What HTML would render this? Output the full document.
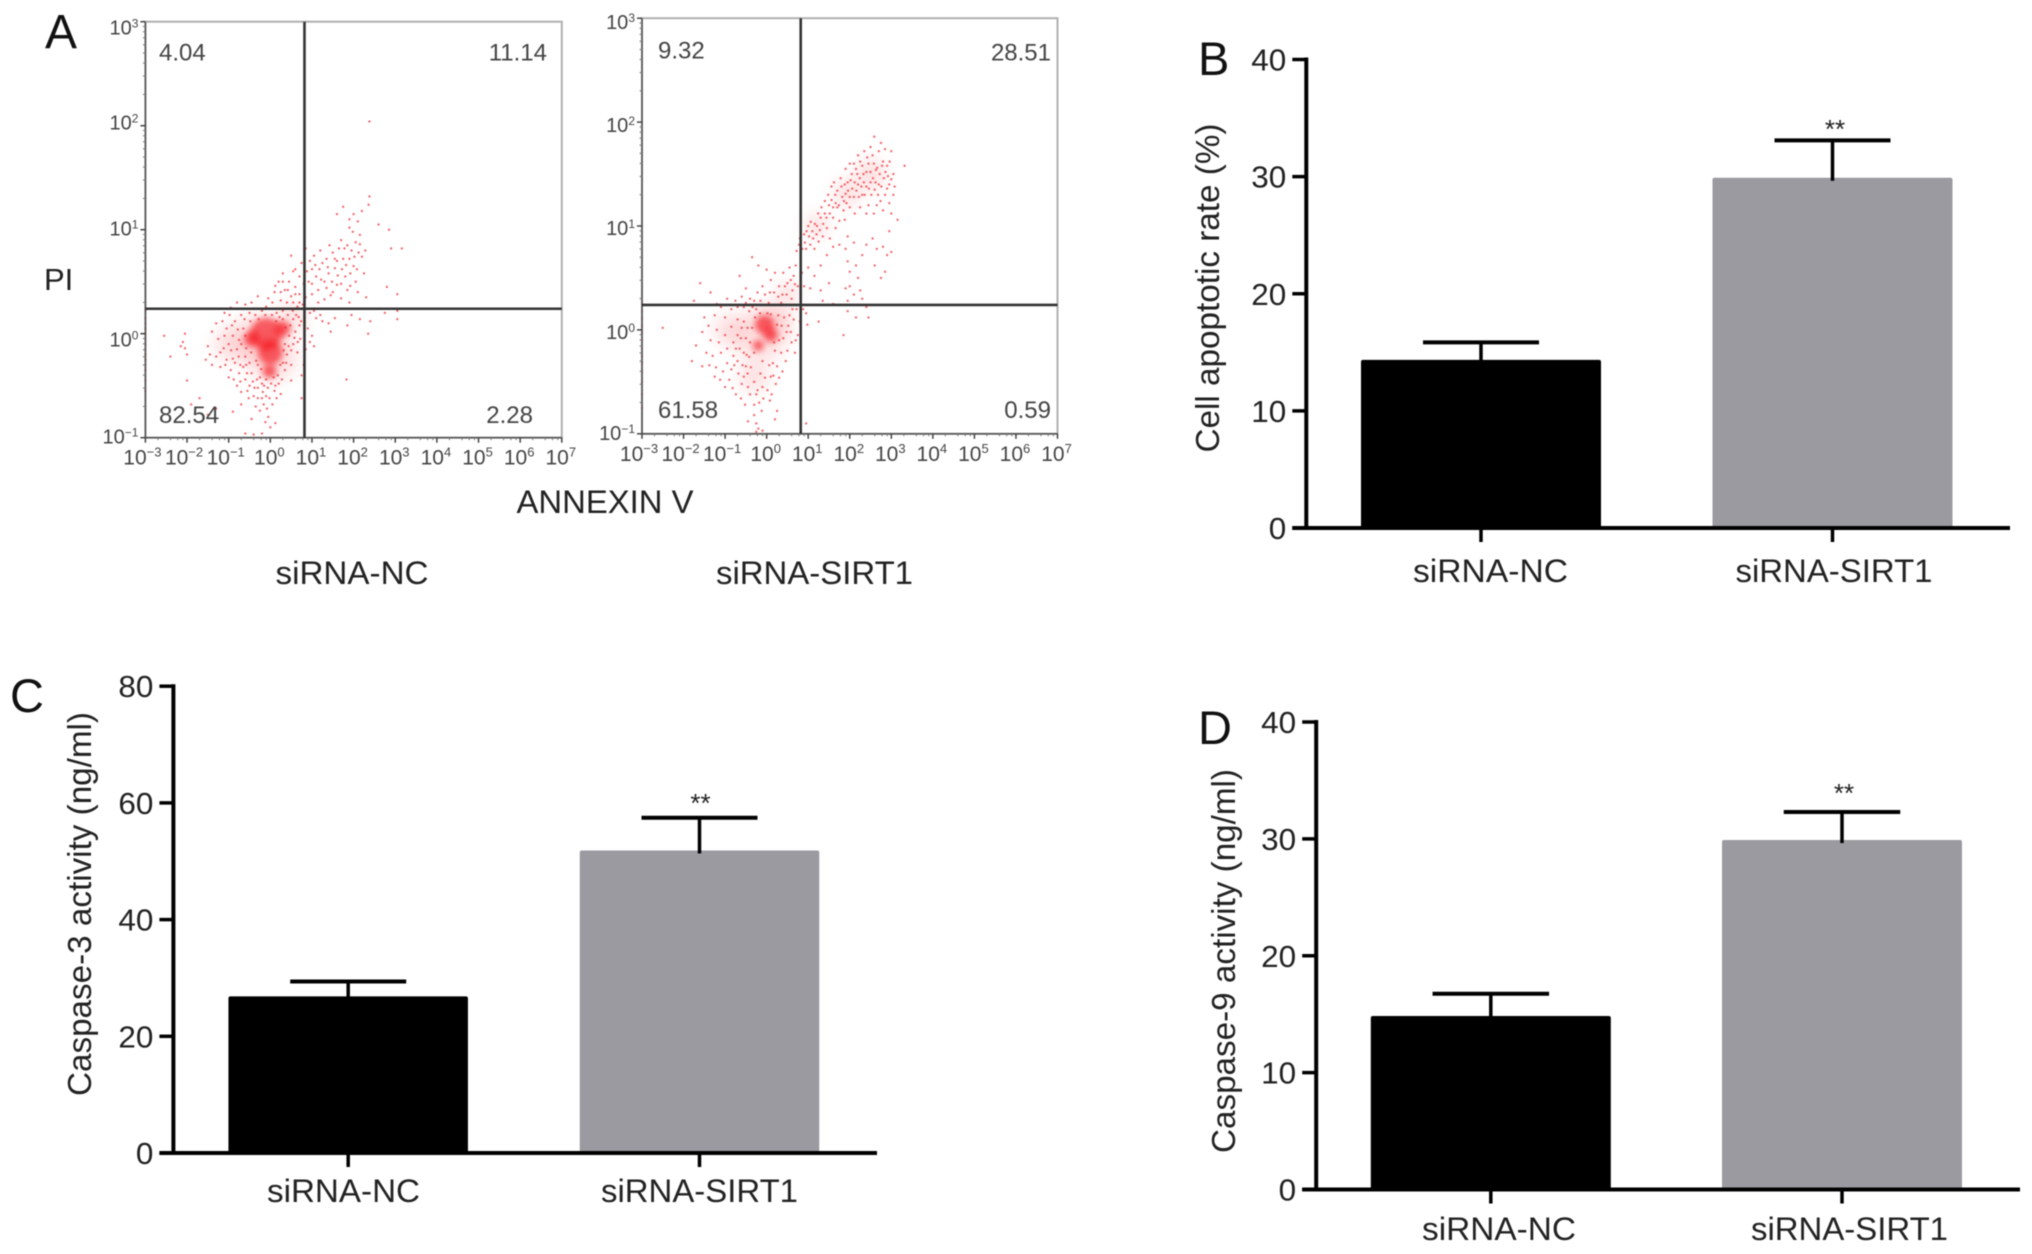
<!DOCTYPE html>
<html lang="en">
<head>
<meta charset="utf-8">
<title>siRNA-SIRT1 apoptosis and caspase activity</title>
<style>
html,body{margin:0;padding:0;background:#fff;width:2032px;height:1254px;overflow:hidden}
svg{display:block;filter:blur(0.55px)}
text{font-family:"Liberation Sans",sans-serif}
</style>
</head>
<body>
<svg id="figure" xmlns="http://www.w3.org/2000/svg" width="2032" height="1254" viewBox="0 0 2032 1254">
<defs>
<filter id="soft" x="-50%" y="-50%" width="200%" height="200%"><feGaussianBlur stdDeviation="3"/></filter>
<filter id="softer" x="-80%" y="-80%" width="260%" height="260%"><feGaussianBlur stdDeviation="8"/></filter>
</defs>
<rect width="2032" height="1254" fill="#fff"/>
</svg>
<script>
/* ---------- Bar chart data ---------- */
const barCategories = ['siRNA-NC', 'siRNA-SIRT1'];
const apoptosisMeans = [14.35, 29.9];
const apoptosisErrors = [1.5, 3.2];
const apoptosisTicks = [0, 10, 20, 30, 40];
const caspase3Means = [26.85, 51.85];
const caspase3Errors = [2.55, 5.6];
const caspase3Ticks = [0, 20, 40, 60, 80];
const caspase9Means = [14.85, 29.9];
const caspase9Errors = [1.9, 2.4];
const caspase9Ticks = [0, 10, 20, 30, 40];

/* ---------- Flow cytometry data (log10 annexin V, log10 PI) ---------- */
const flowXTicks = [-3, -2, -1, 0, 1, 2, 3, 4, 5, 6, 7];
const flowYTicks = [-1, 0, 1, 2, 3];
const ncQuadrants = ['4.04', '11.14', '82.54', '2.28'];
const sirtQuadrants = ['9.32', '28.51', '61.58', '0.59'];
const ncGate = [0.82, 0.24];
const sirtGate = [0.82, 0.24];
const ncDensityHaze = [[-0.3,-0.05,620],[0.05,-0.22,620],[0.5,0.15,200],[-0.95,-0.1,260]];
const ncDensityCore = [[-0.1,0.0,260],[0.0,-0.18,150],[-0.02,-0.36,50],[0.3,0.05,60],[-0.45,-0.05,60]];
const ncEvents = [
[0.5,0.75],[0.6,0.62],[0.7,0.55],[0.8,0.48],[0.95,0.7],[1.0,0.62],[1.1,0.55],[1.15,0.42],[1.25,0.68],[1.3,0.5],
[1.4,0.58],[1.45,0.37],[1.55,0.63],[1.6,0.47],[1.7,0.9],[1.75,0.72],[1.8,0.55],[1.85,0.42],[1.95,0.8],[2.0,0.65],
[2.05,0.5],[2.15,0.95],[2.2,0.74],[2.25,0.58],[2.3,0.35],[2.38,1.32],[2.36,1.24],[2.38,2.04],[2.0,1.15],[2.2,1.18],
[1.6,1.15],[1.75,1.22],[1.9,1.02],[2.6,1.05],[2.85,1.0],[2.9,0.82],[3.16,0.82],[2.8,0.45],[3.05,0.38],[3.05,0.22],
[1.9,1.1],[2.1,1.08],[2.15,0.86],[1.85,0.85],[1.65,0.82],[1.5,0.78],[1.35,0.72],[1.2,0.8],[1.05,0.75],[0.85,0.82],
[0.75,0.68],[0.55,0.6],[0.45,0.5],[0.6,0.45],[0.7,0.38],[0.85,0.35],[1.0,0.38],[1.15,0.3],[1.3,0.33],[1.5,0.4],
[1.7,0.34],[1.9,0.3],[0.35,0.42],[0.3,0.58],[0.2,0.5],[0.1,0.4],[-0.05,0.34],[0.05,0.3],[0.25,0.32],[0.4,0.3],
[0.55,0.3],[0.65,0.26],[-0.3,0.36],[-0.45,0.3],[-0.6,0.28],[-0.8,0.3],[-0.95,0.25],[-1.1,0.2],[-1.3,0.1],[-1.4,0.02],
[0.95,0.2],[1.1,0.15],[1.25,0.12],[1.4,0.1],[1.45,0.02],[0.9,0.05],[0.95,-0.08],[1.05,-0.12],[0.85,-0.15],[1.0,-0.02],
[1.83,-0.44],[1.95,0.18],[2.15,0.14],[2.35,0.0],[2.4,0.12],[1.85,0.08],[2.75,0.2],[3.05,0.14],[0.8,-0.3],[0.75,-0.4],
[-2.05,0.0],[-2.1,-0.08],[-2.15,-0.12],[-2.0,-0.2],[-2.05,-0.14],[-2.4,-0.22],[-2.55,-0.02],[-2.0,-0.45],[-1.5,-0.12],[-1.45,-0.2],
[-1.55,-0.25],[-1.4,-0.3],[-1.25,-0.05],[-1.2,-0.18],[-1.3,-0.22],[-1.2,-0.32],[-1.05,0.05],[-1.0,-0.1],[-1.05,-0.25],[-0.95,-0.35],
[-1.0,-0.42],[-0.85,0.12],[-0.9,-0.02],[-0.8,-0.15],[-0.85,-0.28],[-0.75,-0.38],[-0.8,-0.5],[-0.7,0.18],[-0.65,0.05],[-0.7,-0.1],
[-0.6,-0.22],[-0.65,-0.32],[-0.6,-0.44],[-0.55,-0.55],[-0.5,0.2],[-0.5,-0.28],[-0.45,-0.38],[-0.5,-0.5],[-0.4,-0.6],[-0.35,-0.7],
[-0.4,0.24],[-0.3,-0.3],[-0.25,-0.42],[-0.3,-0.52],[-0.2,-0.62],[-0.25,-0.74],[-0.2,0.22],[-0.1,0.26],[-0.15,-0.5],[-0.1,-0.6],
[-0.08,-0.72],[-0.05,-0.8],[0.05,-0.68],[0.1,-0.55],[0.15,-0.62],[0.2,-0.48],[0.25,-0.58],[0.05,0.24],[0.15,0.2],[0.3,0.22],
[0.35,-0.1],[0.4,-0.2],[0.45,-0.02],[0.5,-0.3],[0.55,-0.1],[0.6,0.02],[0.65,-0.18],[0.7,0.08],[0.55,0.14],[0.72,-0.05],
[0.35,-0.35],[0.3,-0.28],[0.5,-0.45],[0.12,-0.86],[0.0,-0.9],[-0.12,-0.85],[-1.9,-0.68],[-1.7,-0.62],[-1.5,-0.78],[-1.3,-0.72],
[-0.9,-0.75],[-0.7,-0.68],[-0.45,-0.82],[-0.6,-0.96],[-0.4,-0.97],[-0.2,-0.96],[0.75,-0.62],[-3,-0.3],[-3,-0.25],[-3,-0.2],
[-3,-0.15],[-3,-0.1],[-3,-0.05],[-3,0],[-3,0.05],[-3,0.1],[-3,0.15],[-3,-0.35],[-3,-0.45],[-3,-0.55],[-3,0.22]
];
const ncEventsDense = [
[-1.15,0.12],[-1.1,-0.02],[-1.12,-0.14],[-1.08,-0.3],[-0.98,0.18],[-0.92,0.08],[-0.94,-0.16],[-0.9,-0.24],[-0.88,-0.44],[-0.82,0.24],
[-0.78,0.04],[-0.75,-0.06],[-0.76,-0.22],[-0.72,-0.3],[-0.72,-0.46],[-0.7,-0.56],[-0.62,0.14],[-0.6,-0.02],[-0.58,-0.14],[-0.58,-0.3],
[-0.56,-0.38],[-0.52,-0.62],[-0.48,0.12],[-0.46,-0.18],[-0.42,-0.46],[-0.38,-0.52],[-0.36,0.18],[-0.34,-0.26],[-0.32,-0.44],[-0.3,-0.62],
[-0.28,0.14],[-0.22,-0.34],[-0.2,-0.48],[-0.18,-0.56],[-0.16,-0.68],[-0.12,0.18],[-0.1,-0.44],[-0.06,-0.52],[-0.02,-0.62],[0.02,-0.48],
[0.04,0.18],[0.08,-0.42],[0.12,-0.5],[0.14,0.12],[0.18,-0.4],[0.22,0.16],[0.24,-0.3],[0.28,-0.44],[0.3,0.14],[0.32,-0.16],
[0.36,0.06],[0.38,-0.28],[0.42,0.18],[0.44,-0.12],[0.48,0.08],[0.5,-0.16],[0.54,0.22],[0.58,-0.04],[0.62,0.18],[0.66,-0.08],
[0.68,0.16],[0.74,0.12],[0.78,0.28],[0.7,0.3],[0.6,0.38],[0.5,0.36],[0.42,0.42],[0.3,0.5],[0.25,0.4],[0.12,0.46],
[0.88,0.6],[0.92,0.5],[1.0,0.48],[1.08,0.66],[1.18,0.62],[1.22,0.52],[1.35,0.44],[1.38,0.64],[1.48,0.5],[1.55,0.72],
[1.62,0.56],[1.72,0.62],[1.78,0.82],[1.82,0.66],[1.9,0.72],[1.92,0.58],[2.02,0.74],[2.08,0.62],[2.12,0.78],[2.28,0.8],
[2.05,0.88],[1.98,0.98],[1.6,0.7],[1.42,0.85],[1.7,0.48],[1.92,0.46],[2.1,0.4],[1.05,0.22],[1.2,0.18],[1.55,0.15]
];
const sirtDensityHaze = [[-0.15,-0.05,700],[0.2,0.1,300],[-0.9,0.0,230],[-0.3,-0.45,210],[0.5,0.35,120],[1.2,1.0,130],[1.95,1.32,170],[2.5,1.5,210]];
const sirtDensityCore = [[-0.05,0.05,90],[0.1,-0.05,50],[-0.2,-0.15,30]];
const sirtEvents = [
[0.78,0.82],[0.82,0.7],[0.7,0.62],[0.9,0.92],[1.0,1.0],[1.1,0.95],[1.21,1.0],[1.3,1.08],[1.4,1.12],[1.5,1.2],
[1.56,1.25],[1.65,1.3],[1.7,1.18],[1.8,1.38],[1.9,1.31],[1.95,1.42],[2.05,1.5],[2.15,1.55],[2.25,1.62],[2.33,1.5],
[2.45,1.6],[2.55,1.68],[2.63,1.54],[2.59,1.86],[2.75,1.8],[2.8,1.62],[2.9,1.58],[3.0,1.72],[3.32,1.58],[3.05,1.5],
[2.95,1.4],[2.85,1.3],[2.7,1.4],[2.6,1.35],[2.5,1.42],[2.4,1.38],[2.3,1.3],[2.2,1.4],[2.1,1.28],[2.0,1.18],
[1.85,1.15],[1.75,1.05],[1.6,1.08],[1.45,0.98],[1.35,0.9],[1.25,0.85],[1.15,0.78],[1.05,0.82],[0.95,0.78],[0.85,0.55],
[2.2,1.68],[2.35,1.72],[2.5,1.76],[2.0,1.6],[1.9,1.55],[2.7,1.72],[2.85,1.74],[3.05,1.3],[3.0,1.12],[2.95,1.22],
[2.8,1.15],[2.65,1.2],[2.45,1.2],[2.25,1.18],[3.15,1.06],[2.95,0.95],[2.8,0.8],[2.9,0.72],[3.0,0.75],[2.65,0.78],
[2.55,0.88],[2.4,0.82],[2.3,0.72],[2.1,0.84],[1.95,0.9],[1.9,0.78],[1.95,0.66],[2.15,0.62],[2.0,0.56],[2.75,0.5],
[2.85,0.56],[2.6,0.62],[1.75,0.82],[1.6,0.8],[1.45,0.72],[1.3,0.62],[1.15,0.52],[1.0,0.6],[0.9,0.42],[1.05,0.4],
[1.3,0.38],[1.5,0.45],[1.35,0.28],[1.6,0.25],[1.9,0.4],[2.0,0.42],[2.1,0.34],[1.95,0.28],[2.2,0.5],[2.25,0.38],
[2.05,0.24],[1.95,0.18],[2.3,0.3],[2.4,0.22],[2.15,0.12],[2.45,0.12],[1.85,-0.05],[1.25,0.08],[0.98,0.05],[0.88,0.2],
[0.95,0.16],[0.75,0.42],[0.65,0.52],[0.55,0.6],[0.5,0.45],[0.4,0.55],[0.3,0.42],[0.2,0.55],[0.1,0.48],[0.0,0.58],
[-0.1,0.42],[-0.2,0.62],[-0.35,0.7],[-0.5,0.4],[-0.65,0.52],[-0.4,0.3],[-0.6,0.32],[-0.75,0.28],[-0.95,0.3],[-1.1,0.22],
[-1.2,0.25],[-0.7,0.22],[-0.55,0.22],[-1.6,0.45],[-1.75,0.28],[-0.5,0.26],[0.35,0.26],[0.6,0.3],[0.72,0.2],[0.65,0.1],
[0.75,-0.05],[0.6,-0.12],[0.5,-0.2],[0.68,-0.22],[0.8,0.08],[-1.5,0.12],[-1.55,-0.02],[-1.4,0.04],[-1.35,-0.1],[-1.25,0.14],
[-1.2,0.0],[-1.15,-0.12],[-1.3,-0.25],[-1.1,-0.22],[-1.0,0.12],[-1.0,-0.05],[-0.95,-0.18],[-0.95,-0.32],[-1.05,-0.4],[-0.85,0.2],
[-0.85,0.03],[-0.8,-0.12],[-0.8,-0.25],[-0.85,-0.38],[-0.7,0.1],[-0.7,-0.05],[-0.65,-0.18],[-0.7,-0.3],[-0.68,-0.42],[-0.6,-0.52],
[-0.55,0.08],[-0.5,-0.08],[-0.55,-0.22],[-0.5,-0.35],[-0.55,-0.45],[-0.45,-0.55],[-0.4,-0.62],[-0.42,0.18],[-0.35,0.02],[-0.3,-0.22],
[-0.38,-0.36],[-0.3,-0.5],[-0.25,-0.62],[-0.3,-0.72],[-0.25,0.2],[-0.15,0.28],[-0.1,-0.3],[-0.15,-0.42],[-0.1,-0.55],[-0.08,-0.66],
[-0.12,-0.78],[0.05,0.26],[0.1,0.15],[0.2,0.24],[0.25,0.05],[0.3,-0.1],[0.35,-0.22],[0.2,-0.2],[0.15,-0.32],[0.25,-0.35],
[0.1,-0.45],[0.02,-0.58],[0.12,-0.62],[0.22,-0.52],[0.3,-0.46],[0.38,-0.4],[0.42,0.12],[0.48,-0.02],[0.55,0.14],[-0.3,-0.82],
[-0.45,-0.88],[-0.25,-0.9],[0.25,-0.78],[0.2,-0.86],[-0.25,-0.98],[-0.1,-0.97],[-0.2,-0.95],[0.95,-0.9],[-1.8,-0.3],[-1.55,-0.35],
[-1.7,-0.15],[-1.25,-0.45],[-1.0,-0.55],[-1.35,0.36],[-2.5,0.02],[-3,-0.4],[-3,-0.32],[-3,-0.25],[-3,-0.18],[-3,-0.1],
[-3,-0.03],[-3,0.04],[-3,0.11],[-3,0.18],[-3,0.25],[-3,-0.5],[-3,-0.62],[-3,-0.75]
];
const sirtEventsDense = [
[0.72,0.76],[0.8,0.88],[0.86,0.78],[0.92,0.84],[0.96,0.95],[1.02,0.9],[1.06,1.04],[1.12,0.88],[1.16,1.02],[1.2,0.92],
[1.24,1.12],[1.28,0.96],[1.32,1.18],[1.36,1.02],[1.4,1.24],[1.44,1.08],[1.48,1.3],[1.52,1.12],[1.56,1.38],[1.6,1.18],
[1.62,1.42],[1.66,1.22],[1.7,1.34],[1.74,1.2],[1.78,1.46],[1.82,1.28],[1.86,1.24],[1.88,1.4],[1.92,1.22],[1.96,1.34],
[2.0,1.28],[2.02,1.44],[2.06,1.36],[2.1,1.6],[2.12,1.42],[2.16,1.34],[2.18,1.5],[2.22,1.28],[2.24,1.46],[2.28,1.38],
[2.3,1.58],[2.34,1.42],[2.36,1.3],[2.4,1.52],[2.42,1.66],[2.46,1.36],[2.5,1.52],[2.52,1.3],[2.56,1.46],[2.58,1.6],
[2.62,1.42],[2.66,1.56],[2.68,1.3],[2.72,1.5],[2.76,1.38],[2.78,1.58],[2.82,1.46],[2.86,1.52],[2.9,1.36],[2.92,1.48],
[2.96,1.62],[3.0,1.45],[3.08,1.38],[2.74,1.24],[2.58,1.12],[2.4,1.12],[2.12,1.12],[1.88,1.06],[1.66,0.98],[1.52,0.88],
[0.68,0.44],[0.62,0.38],[0.58,0.48],[0.48,0.34],[0.44,0.42],[0.38,0.34],[0.28,0.32],[0.18,0.36],[0.08,0.36],[-0.04,0.34],
[-0.22,0.36],[-0.3,0.28],[-1.45,-0.22],[-1.38,-0.34],[-1.22,-0.36],[-1.12,-0.48],[-0.9,-0.48],[-0.82,-0.56],[-0.74,-0.62],[-0.62,-0.66],
[-0.52,-0.72],[-0.46,-0.42],[-0.42,-0.26],[-0.4,-0.12],[-0.46,0.02],[-0.6,0.02],[-0.62,-0.08],[-0.74,-0.18],[-0.78,-0.34],[-0.58,-0.34],
[-0.48,-0.24],[-0.22,-0.58],[-0.18,-0.7],[-0.04,-0.46],[0.06,-0.34],[0.08,-0.68],[0.16,-0.44],[0.18,-0.12],[0.28,0.14],[0.36,0.04],
[0.4,-0.08],[0.46,-0.3],[0.52,0.04],[0.58,-0.02],[0.62,0.2],[0.7,-0.1],[-0.16,0.16],[-0.28,0.12],[-0.34,0.22],[0.02,0.16]
];

/* ---------- Layout (page geometry only) ---------- */
const svg = document.getElementById('figure');
const NS = 'http://www.w3.org/2000/svg';
function make(tag, attrs, parent) {
  const el = document.createElementNS(NS, tag);
  for (const k in attrs) el.setAttribute(k, attrs[k]);
  (parent || svg).appendChild(el);
  return el;
}
function addText(parent, str, x, y, size, anchor, fill, len, rotate) {
  const attrs = { x: x, y: y, 'font-size': size, 'text-anchor': anchor, fill: fill };
  if (len) { attrs.textLength = len; attrs.lengthAdjust = 'spacingAndGlyphs'; }
  if (rotate) attrs.transform = 'rotate(-90 ' + x + ' ' + y + ')';
  const el = make('text', attrs, parent);
  el.textContent = str;
  return el;
}

/* ---------- Bar panels ---------- */
function drawBarPanel(key, means, errors, ticks, box, title) {
  const g = make('g', {});
  
  
  const yMax = ticks[ticks.length - 1];
  const y = v => box.zero - (v / yMax) * (box.zero - box.top);
  const x = i => box.center0 + i * box.step;

  means.forEach((m, i) => {
    const bar = make('rect', { x: x(i) - box.barW / 2, y: y(m), width: box.barW, height: box.zero - y(m), rx: 2, fill: i === 0 ? '#000' : '#9b9aa1' }, g);
    
    
    const stem = make('line', { x1: x(i), x2: x(i), y1: y(m + errors[i]), y2: y(m) + 3, stroke: '#000', 'stroke-width': 3.5 }, g);
    
    
    const cap = make('line', { x1: x(i) - box.capW / 2, x2: x(i) + box.capW / 2, y1: y(m + errors[i]), y2: y(m + errors[i]), stroke: '#000', 'stroke-width': 4 }, g);
    
    
    const xTick = make('line', { x1: x(i), x2: x(i), y1: box.zero, y2: box.zero + 14, stroke: '#000', 'stroke-width': 3.5 }, g);
    
    
    const lab = addText(g, barCategories[i], box.labelX[i], box.labelY, 32, 'middle', '#222', box.labelW[i]);
    
    
  });

  const yAxis = make('line', { x1: box.left, x2: box.left, y1: box.top - 2, y2: box.zero + 2, stroke: '#000', 'stroke-width': 4 }, g);
  
  
  const xAxis = make('line', { x1: box.left - 14, x2: box.right, y1: box.zero, y2: box.zero, stroke: '#000', 'stroke-width': 4 }, g);
  
  

  ticks.forEach(t => {
    const tick = make('line', { x1: box.left - 14, x2: box.left, y1: y(t), y2: y(t), stroke: '#000', 'stroke-width': 3.5 }, g);
    
    
    const lab = addText(g, String(t), box.left - 20, y(t) + 11, 31, 'end', '#222', 35);
    
    
    if (t === 0) lab.setAttribute('textLength', 17.5);
  });

  const yTitle = addText(g, title, box.titleX, box.titleY, 33, 'middle', '#222', box.titleW, true);
  
  
  const star = addText(g, '**', box.starX, box.starY, 26, 'middle', '#222');
  
  
}

drawBarPanel('apoptosis', apoptosisMeans, apoptosisErrors, apoptosisTicks,
  { left: 1306.3, right: 2010, top: 59.5, zero: 528, center0: 1481, step: 351.5, barW: 240, capW: 116,
    labelX: [1490.5, 1834], labelW: [155, 197], labelY: 582, titleX: 1219, titleY: 288, titleW: 329, starX: 1835, starY: 138 },
  'Cell apoptotic rate (%)');
drawBarPanel('caspase-3', caspase3Means, caspase3Errors, caspase3Ticks,
  { left: 173.4, right: 877, top: 686.2, zero: 1153, center0: 348.2, step: 351.3, barW: 239.5, capW: 116,
    labelX: [343.5, 699.5], labelW: [153, 197], labelY: 1202, titleX: 91, titleY: 904, titleW: 384, starX: 700.5, starY: 812 },
  'Caspase-3 activity (ng/ml)');
drawBarPanel('caspase-9', caspase9Means, caspase9Errors, caspase9Ticks,
  { left: 1316.2, right: 2020, top: 722, zero: 1189.5, center0: 1490.8, step: 351.2, barW: 240, capW: 116.5,
    labelX: [1499, 1849.5], labelW: [154, 197], labelY: 1240, titleX: 1235, titleY: 961, titleW: 384, starX: 1844, starY: 802 },
  'Caspase-9 activity (ng/ml)');

/* ---------- Flow cytometry panels ---------- */
function drawFlowPanel(key, events, haze, core, gate, quadrants, box) {
  const g = make('g', {});
  
  
  const x = v => box.left + (v - flowXTicks[0]) / (flowXTicks[flowXTicks.length - 1] - flowXTicks[0]) * (box.right - box.left);
  const y = v => box.bottom - (v - flowYTicks[0]) / (flowYTicks[flowYTicks.length - 1] - flowYTicks[0]) * (box.bottom - box.top);

  const frame = make('rect', { x: box.left, y: box.top, width: box.right - box.left, height: box.bottom - box.top, fill: 'none', stroke: '#b0b0b0', 'stroke-width': 2 }, g);
  
  

  haze.forEach(p => {
    const c = make('circle', { cx: x(p[0]), cy: y(p[1]), r: Math.sqrt(p[2]), fill: '#f5393c', opacity: 0.16, filter: 'url(#softer)' }, g);
    
    
  });
  core.forEach(p => {
    const c = make('circle', { cx: x(p[0]), cy: y(p[1]), r: Math.sqrt(p[2]), fill: '#f40f16', opacity: 0.62, filter: 'url(#soft)' }, g);
    
    
  });
  events.forEach(p => {
    const d = make('rect', { x: x(p[0]) - 1, y: y(p[1]) - 1, width: 2, height: 2, fill: '#ee1c25', opacity: 0.7 }, g);
    
    
  });

  const leftAxis = make('line', { x1: box.left, x2: box.left, y1: box.top, y2: box.bottom, stroke: '#555', 'stroke-width': 1.6 }, g);
  
  
  const bottomAxis = make('line', { x1: box.left, x2: box.right, y1: box.bottom, y2: box.bottom, stroke: '#555', 'stroke-width': 1.6 }, g);
  
  

  flowXTicks.forEach((t, i) => {
    const tick = make('line', { x1: x(t), x2: x(t), y1: box.bottom, y2: box.bottom + 5, stroke: '#444', 'stroke-width': 1.5 }, g);
    
    
    const lab = addText(g, '10', x(t) - (t < 0 ? 3 : 1), box.bottom + 27, 21, 'middle', '#444');
    
    
    const sup = make('tspan', { dy: -8, 'font-size': 13 }, lab);
    sup.textContent = t < 0 ? '\u2212' + (-t) : String(t);
    if (i < flowXTicks.length - 1) {
      for (let m = 2; m < 10; m += 2) {
        const minor = make('line', { x1: x(t + Math.log10(m)), x2: x(t + Math.log10(m)), y1: box.bottom, y2: box.bottom + 2.5, stroke: '#777', 'stroke-width': 1 }, g);
        
        
      }
    }
  });
  flowYTicks.forEach((t, i) => {
    const tick = make('line', { x1: box.left - 5, x2: box.left, y1: y(t), y2: y(t), stroke: '#444', 'stroke-width': 1.5 }, g);
    
    
    const lab = addText(g, '10', box.left - 7, y(t) + box.yLabelDy[i], 20, 'end', '#444');
    
    
    const sup = make('tspan', { dy: -7, 'font-size': 12 }, lab);
    sup.textContent = t < 0 ? '\u2212' + (-t) : String(t);
    if (i < flowYTicks.length - 1) {
      for (let m = 2; m < 10; m++) {
        const minor = make('line', { x1: box.left - 2.5, x2: box.left, y1: y(t + Math.log10(m)), y2: y(t + Math.log10(m)), stroke: '#777', 'stroke-width': 1 }, g);
        
        
      }
    }
  });

  const vGate = make('line', { x1: x(gate[0]), x2: x(gate[0]), y1: box.top, y2: box.bottom, stroke: '#333', 'stroke-width': 2.6 }, g);
  
  
  const hGate = make('line', { x1: box.left, x2: box.right, y1: y(gate[1]), y2: y(gate[1]), stroke: '#333', 'stroke-width': 2.6 }, g);
  
  

  box.quadPos.forEach((q, i) => {
    const lab = addText(g, quadrants[i], q[0], q[1], 24, q[2], '#444');
    
    
  });
}
drawFlowPanel('sirna-nc', ncEvents.concat(ncEventsDense), ncDensityHaze, ncDensityCore, ncGate, ncQuadrants,
  { left: 145.4, right: 561.8, top: 21.7, bottom: 437.7, yLabelDy: [6, 13, 6, 4, 13],
    quadPos: [[159, 60.5, 'start'], [547, 60.5, 'end'], [159, 423, 'start'], [533, 423, 'end']] });
drawFlowPanel('sirna-sirt1', sirtEvents.concat(sirtEventsDense), sirtDensityHaze, sirtDensityCore, sirtGate, sirtQuadrants,
  { left: 642, right: 1057.5, top: 18.2, bottom: 433.8, yLabelDy: [6, 9, 9, 10, 11],
    quadPos: [[658, 58.5, 'start'], [1051, 60.5, 'end'], [658, 418, 'start'], [1051, 418, 'end']] });

/* ---------- Figure-level labels ---------- */
const labelA = addText(svg, 'A', 45, 48, 48, 'start', '#111');


const labelB = addText(svg, 'B', 1198, 75, 47, 'start', '#111');


const labelC = addText(svg, 'C', 10, 712, 47, 'start', '#111');


const labelD = addText(svg, 'D', 1198, 744, 47, 'start', '#111');


const piLabel = addText(svg, 'PI', 44, 290, 31, 'start', '#222');


const annexinLabel = addText(svg, 'ANNEXIN V', 605, 513, 32, 'middle', '#222', 177);


const ncCaption = addText(svg, barCategories[0], 352, 584, 32, 'middle', '#222', 153);


const sirtCaption = addText(svg, barCategories[1], 814.5, 584, 32, 'middle', '#222', 197);


</script>
</body>
</html>
